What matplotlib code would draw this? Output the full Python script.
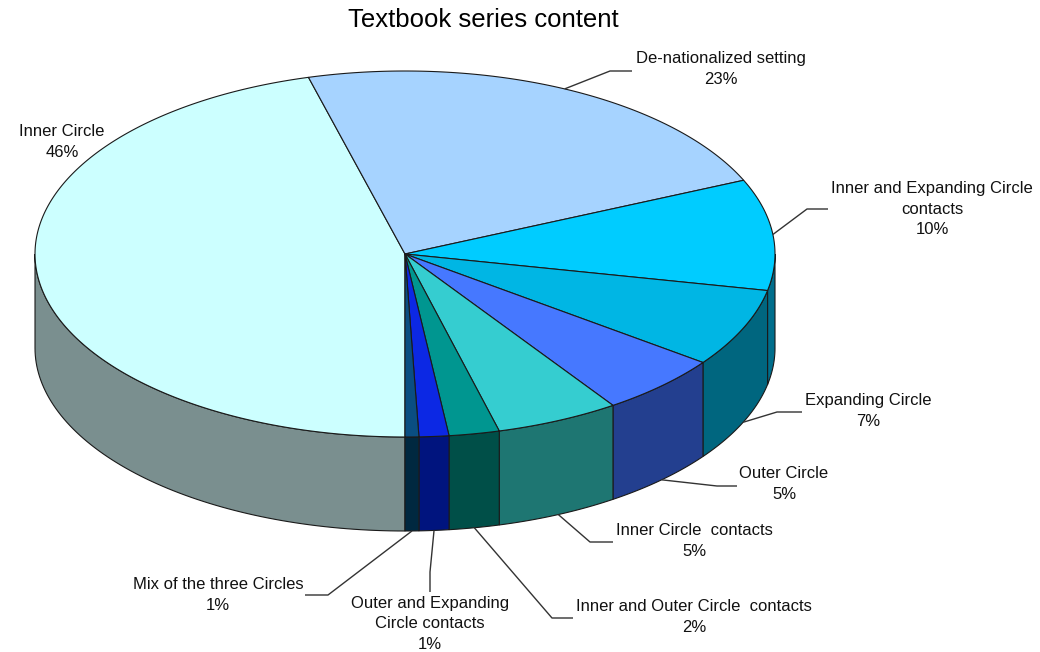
import numpy as np
import matplotlib
matplotlib.use("Agg")
import matplotlib.pyplot as plt
from matplotlib.patches import Polygon

# ---- data ----
categories = [
    "Inner Circle",
    "De-nationalized setting",
    "Inner and Expanding Circle\ncontacts",
    "Expanding Circle",
    "Outer Circle",
    "Inner Circle  contacts",
    "Inner and Outer Circle  contacts",
    "Outer and Expanding\nCircle contacts",
    "Mix of the three Circles",
]
shares = [45.8, 22.6, 9.8, 6.9, 5.4, 5.4, 2.2, 1.3, 0.6]
title = "Textbook series content"

top_colors = ["#CCFFFF", "#A6D3FF", "#00CCFF", "#00B6E4", "#4678FF",
              "#35CDD0", "#009690", "#0C28E4", "#0A4E82"]
side_colors = ["#7A8F8F", "#5F7F99", "#006E8C", "#00667F", "#233F8F",
               "#1E7672", "#004F48", "#00147E", "#002840"]

# label layout (text centre, leader elbow, leader end) in pixels
label_layout = [
    ((62, 142), None, None),
    ((721, 69), (610, 71), (632, 71)),
    ((932, 209), (807, 209), (828, 209)),
    ((868, 411), (777, 412), (802, 412)),
    ((784, 484), (717, 486), (737, 486)),
    ((694, 541), (590, 542), (613, 542)),
    ((694, 617), (552, 618), (573, 618)),
    ((430, 624), (430, 572), (430, 592)),
    ((218, 595), (328, 595), (305, 595)),
]

plt.rcParams["font.family"] = ["Liberation Sans", "DejaVu Sans"]

fig = plt.figure(figsize=(10.4, 6.52), dpi=100)
ax = fig.add_axes([0, 0, 1, 1])
ax.set_xlim(0, 1040)
ax.set_ylim(652, 0)
ax.axis("off")

cx, cy, a, b, depth = 405, 254, 370, 183, 94
start = 270.0
edge = "#1a1a1a"
lw = 0.8


def pt(t, dy=0.0):
    r = np.deg2rad(t)
    return cx + a * np.cos(r), cy - b * np.sin(r) + dy


cum = np.concatenate([[0], np.cumsum(shares)])
total = cum[-1]
spans = []
for i in range(len(shares)):
    t_hi = start - 360.0 * cum[i] / total
    t_lo = start - 360.0 * cum[i + 1] / total
    spans.append((t_lo, t_hi))

# side walls (front half)
for i, (t_lo, t_hi) in enumerate(spans):
    for f_lo, f_hi in [(180, 360), (-180, 0)]:
        lo, hi = max(t_lo, f_lo), min(t_hi, f_hi)
        if hi - lo <= 0:
            continue
        ts = np.linspace(lo, hi, 80)
        xs, ys = pt(ts)
        xb, yb = pt(ts[::-1], depth)
        poly = np.column_stack([np.concatenate([xs, xb]), np.concatenate([ys, yb])])
        ax.add_patch(Polygon(poly, closed=True, facecolor=side_colors[i],
                             edgecolor=edge, linewidth=lw, zorder=2))

# top faces
for i, (t_lo, t_hi) in enumerate(spans):
    ts = np.linspace(t_hi, t_lo, 200)
    xs, ys = pt(ts)
    poly = np.column_stack([np.concatenate([[cx], xs]), np.concatenate([[cy], ys])])
    ax.add_patch(Polygon(poly, closed=True, facecolor=top_colors[i],
                         edgecolor=edge, linewidth=lw, zorder=3, joinstyle="round"))

# labels with leader lines
for i, (name, share) in enumerate(zip(categories, shares)):
    (tx, ty), elbow, end = label_layout[i]
    ax.text(tx, ty, f"{name}\n{share:.0f}%", ha="center", va="center",
            multialignment="center", fontsize=12, color="#111111",
            linespacing=1.45, zorder=5)
    if elbow is None:
        continue
    t_lo, t_hi = spans[i]
    tm = 0.5 * (t_lo + t_hi)
    front = np.sin(np.deg2rad(tm)) < 0
    ax0, ay0 = pt(tm, depth if front else 0)
    ax.plot([ax0, elbow[0], end[0]], [ay0, elbow[1], end[1]],
            color="#333333", linewidth=1.0, zorder=4, solid_capstyle="butt")

ax.text(483, 20, title, ha="center", va="center", fontsize=18.5, color="#000000")

fig.savefig("out.png", dpi=100)
